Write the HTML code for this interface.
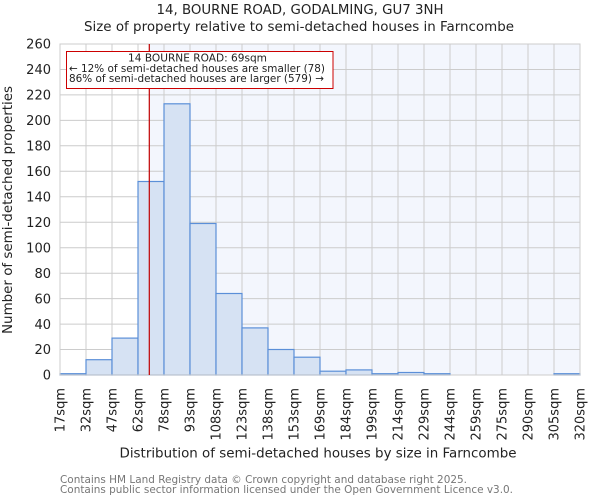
<!DOCTYPE html>
<html><head><meta charset="utf-8"><style>
html,body{margin:0;padding:0;background:#fff;}
svg{display:block;font-family:"DejaVu Sans","Liberation Sans",sans-serif;}
</style></head><body>
<svg width="600" height="500" viewBox="0 0 600 500" xmlns="http://www.w3.org/2000/svg">
<rect x="0" y="0" width="600" height="500" fill="#fff"/>
<!-- titles -->
<text x="300" y="14" font-size="13" text-anchor="middle" fill="#222" textLength="287" lengthAdjust="spacingAndGlyphs">14, BOURNE ROAD, GODALMING, GU7 3NH</text>
<text x="299" y="31" font-size="13" text-anchor="middle" fill="#222" textLength="430" lengthAdjust="spacingAndGlyphs">Size of property relative to semi-detached houses in Farncombe</text>
<!-- plot bg -->
<rect x="60" y="44" width="520" height="331" fill="#fff"/>
<rect x="149.3" y="44" width="430.7" height="331" fill="#f3f6fd"/>
<!-- grid -->
<g stroke="#cccccc" stroke-width="1">
<line x1="86" y1="44" x2="86" y2="375"/><line x1="112" y1="44" x2="112" y2="375"/><line x1="138" y1="44" x2="138" y2="375"/><line x1="164" y1="44" x2="164" y2="375"/><line x1="190" y1="44" x2="190" y2="375"/><line x1="216" y1="44" x2="216" y2="375"/><line x1="242" y1="44" x2="242" y2="375"/><line x1="268" y1="44" x2="268" y2="375"/><line x1="294" y1="44" x2="294" y2="375"/><line x1="320" y1="44" x2="320" y2="375"/><line x1="346" y1="44" x2="346" y2="375"/><line x1="372" y1="44" x2="372" y2="375"/><line x1="398" y1="44" x2="398" y2="375"/><line x1="424" y1="44" x2="424" y2="375"/><line x1="450" y1="44" x2="450" y2="375"/><line x1="476" y1="44" x2="476" y2="375"/><line x1="502" y1="44" x2="502" y2="375"/><line x1="528" y1="44" x2="528" y2="375"/><line x1="554" y1="44" x2="554" y2="375"/>
<line x1="60" y1="349.5" x2="580" y2="349.5"/><line x1="60" y1="324.1" x2="580" y2="324.1"/><line x1="60" y1="298.6" x2="580" y2="298.6"/><line x1="60" y1="273.2" x2="580" y2="273.2"/><line x1="60" y1="247.7" x2="580" y2="247.7"/><line x1="60" y1="222.2" x2="580" y2="222.2"/><line x1="60" y1="196.8" x2="580" y2="196.8"/><line x1="60" y1="171.3" x2="580" y2="171.3"/><line x1="60" y1="145.8" x2="580" y2="145.8"/><line x1="60" y1="120.4" x2="580" y2="120.4"/><line x1="60" y1="94.9" x2="580" y2="94.9"/><line x1="60" y1="69.5" x2="580" y2="69.5"/>
</g>
<!-- bars -->
<g fill="#d6e2f3" stroke="#5b8fd8" stroke-width="1.2">
<rect x="60" y="373.7" width="26" height="1.3"/>
<rect x="86" y="359.7" width="26" height="15.3"/>
<rect x="112" y="338.1" width="26" height="36.9"/>
<rect x="138" y="181.5" width="26" height="193.5"/>
<rect x="164" y="103.8" width="26" height="271.2"/>
<rect x="190" y="223.5" width="26" height="151.5"/>
<rect x="216" y="293.5" width="26" height="81.5"/>
<rect x="242" y="327.9" width="26" height="47.1"/>
<rect x="268" y="349.5" width="26" height="25.5"/>
<rect x="294" y="357.2" width="26" height="17.8"/>
<rect x="320" y="371.2" width="26" height="3.8"/>
<rect x="346" y="369.9" width="26" height="5.1"/>
<rect x="372" y="373.7" width="26" height="1.3"/>
<rect x="398" y="372.5" width="26" height="2.5"/>
<rect x="424" y="373.7" width="26" height="1.3"/>
<rect x="554" y="373.7" width="26" height="1.3"/>
</g>
<!-- frame -->
<rect x="60" y="44" width="520" height="331" fill="none" stroke="#cccccc" stroke-width="1"/>
<!-- red line -->
<line x1="149.3" y1="44" x2="149.3" y2="375" stroke="#c00000" stroke-width="1.2"/>
<!-- annotation -->
<rect x="66.5" y="51.5" width="266.5" height="37" fill="#fff" stroke="#cc0000" stroke-width="1"/>
<g font-size="10.5" fill="#222" text-anchor="middle">
<text x="197.5" y="61.5" textLength="139" lengthAdjust="spacingAndGlyphs">14 BOURNE ROAD: 69sqm</text>
<text x="197" y="72" textLength="256" lengthAdjust="spacingAndGlyphs">← 12% of semi-detached houses are smaller (78)</text>
<text x="196.5" y="82" textLength="255" lengthAdjust="spacingAndGlyphs">86% of semi-detached houses are larger (579) →</text>
</g>
<!-- y tick labels -->
<g font-size="13" fill="#222" text-anchor="end">
<text x="51" y="379.7">0</text><text x="51" y="354.2">20</text><text x="51" y="328.8">40</text><text x="51" y="303.3">60</text><text x="51" y="277.9">80</text><text x="51" y="252.4">100</text><text x="51" y="226.9">120</text><text x="51" y="201.5">140</text><text x="51" y="176">160</text><text x="51" y="150.5">180</text><text x="51" y="125.1">200</text><text x="51" y="99.6">220</text><text x="51" y="74.2">240</text><text x="51" y="48.7">260</text>
</g>
<!-- y label -->
<text transform="translate(12,210) rotate(-90)" font-size="13" fill="#222" text-anchor="middle" textLength="248" lengthAdjust="spacingAndGlyphs">Number of semi-detached properties</text>
<!-- x tick labels -->
<g font-size="13" fill="#222" text-anchor="end">
<text transform="translate(64.7,388) rotate(-90)">17sqm</text>
<text transform="translate(90.7,388) rotate(-90)">32sqm</text>
<text transform="translate(116.7,388) rotate(-90)">47sqm</text>
<text transform="translate(142.7,388) rotate(-90)">62sqm</text>
<text transform="translate(168.7,388) rotate(-90)">78sqm</text>
<text transform="translate(194.7,388) rotate(-90)">93sqm</text>
<text transform="translate(220.7,388) rotate(-90)">108sqm</text>
<text transform="translate(246.7,388) rotate(-90)">123sqm</text>
<text transform="translate(272.7,388) rotate(-90)">138sqm</text>
<text transform="translate(298.7,388) rotate(-90)">153sqm</text>
<text transform="translate(324.7,388) rotate(-90)">169sqm</text>
<text transform="translate(350.7,388) rotate(-90)">184sqm</text>
<text transform="translate(376.7,388) rotate(-90)">199sqm</text>
<text transform="translate(402.7,388) rotate(-90)">214sqm</text>
<text transform="translate(428.7,388) rotate(-90)">229sqm</text>
<text transform="translate(454.7,388) rotate(-90)">244sqm</text>
<text transform="translate(480.7,388) rotate(-90)">259sqm</text>
<text transform="translate(506.7,388) rotate(-90)">275sqm</text>
<text transform="translate(532.7,388) rotate(-90)">290sqm</text>
<text transform="translate(558.7,388) rotate(-90)">305sqm</text>
<text transform="translate(584.7,388) rotate(-90)">320sqm</text>
</g>
<!-- x label -->
<text x="318" y="457.5" font-size="13" fill="#222" text-anchor="middle" textLength="397" lengthAdjust="spacingAndGlyphs">Distribution of semi-detached houses by size in Farncombe</text>
<!-- footer -->
<g font-size="11" fill="#777">
<text x="60" y="483" textLength="407" lengthAdjust="spacingAndGlyphs">Contains HM Land Registry data © Crown copyright and database right 2025.</text>
<text x="60" y="493" textLength="453" lengthAdjust="spacingAndGlyphs">Contains public sector information licensed under the Open Government Licence v3.0.</text>
</g>
</svg>
</body></html>
